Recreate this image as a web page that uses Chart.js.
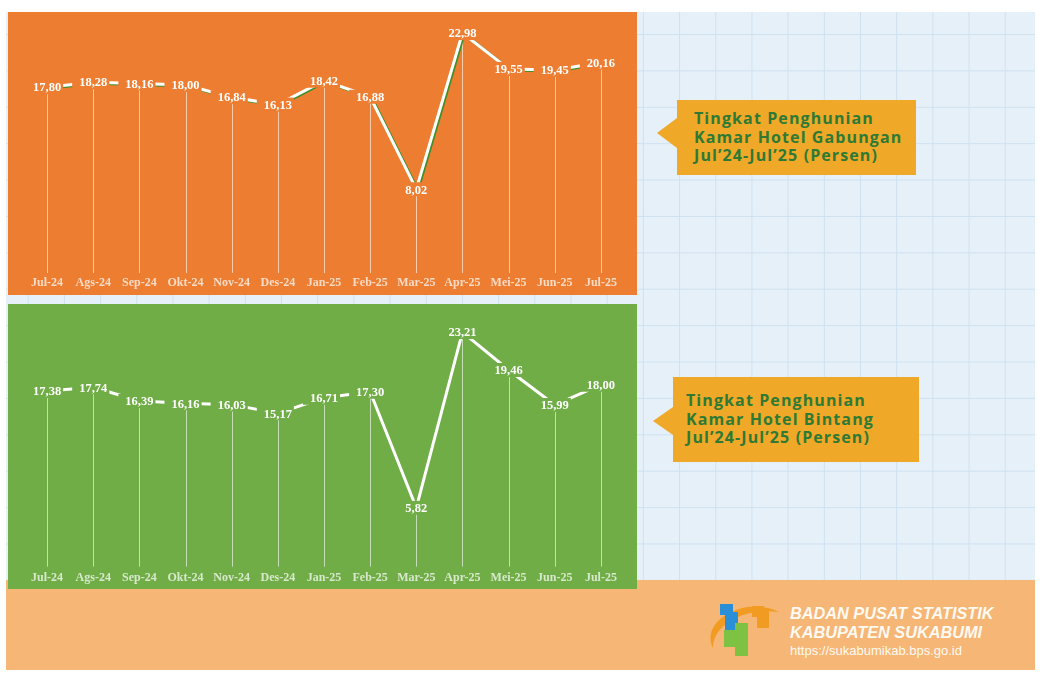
<!DOCTYPE html>
<html>
<head>
<meta charset="utf-8">
<script src="https://cdn.jsdelivr.net/npm/chart.js@4.4.1/dist/chart.umd.min.js"></script>
<style>
  body { margin: 0; width: 1040px; height: 673px; background: #fff; position: relative; overflow: hidden; }
  .grid {
    position: absolute; left: 6px; top: 12px; width: 1029px; height: 570px;
    background-color: #e5f0f9;
    background-image: linear-gradient(to right, #cfe1ef 1px, transparent 1px),
                      linear-gradient(to bottom, #cfe1ef 1px, transparent 1px);
    background-size: 36.2px 36.4px;
    background-position: 21.7px 22px;
  }
  .foot { position: absolute; left: 6px; top: 580px; width: 1029px; height: 90px; background: #f6b676; }
  .panel { position: absolute; left: 8px; width: 629px; }
  #p1 { top: 12px; height: 283px; background: #ed7d31; }
  #p2 { top: 304px; height: 285px; background: #70ad47; }
  .callout {
    position: absolute; background: #f0a828; color: #2e7a35;
    font-family: "Open Sans", sans-serif; font-weight: 700; font-size: 16px;
    letter-spacing: 1.1px; line-height: 18.5px; box-sizing: border-box;
  }
  .arrow { position: absolute; width: 0; height: 0; border-style: solid; }
  .bps { position: absolute; left: 790px; color: #fffaf2; font-family: "Liberation Sans", Arial, sans-serif; }
</style>
</head>
<body>
<div class="grid"></div>
<div class="foot"></div>

<div class="panel" id="p1"><canvas id="c1"></canvas></div>
<div class="panel" id="p2"><canvas id="c2"></canvas></div>

<div class="arrow" style="left:657px;top:118px;border-width:15px 20px 15px 0;border-color:transparent #f0a828 transparent transparent;"></div>
<div class="callout" style="left:677px;top:100px;width:239px;height:75px;padding:9px 0 0 17px;">Tingkat Penghunian<br>Kamar Hotel Gabungan<br>Jul’24-Jul’25 (Persen)</div>

<div class="arrow" style="left:653px;top:407px;border-width:14px 20px 14px 0;border-color:transparent #f0a828 transparent transparent;"></div>
<div class="callout" style="left:673px;top:377px;width:246px;height:85px;padding:14px 0 0 13px;">Tingkat Penghunian<br>Kamar Hotel Bintang<br>Jul’24-Jul’25 (Persen)</div>

<svg style="position:absolute;left:705px;top:596px" width="80" height="64" viewBox="0 0 80 64">
  <path d="M8 52 C0 36 12 20 34 13 C48 9 63 10 74 16 C61 14 47 16 35 20 C18 27 8 38 8 52 Z" fill="#f29b22"/>
  <polygon points="15,8 28,8 28,19 15,19" fill="#2b8fd8"/>
  <polygon points="20,16 33,16 33,39 20,39" fill="#2b8fd8"/>
  <polygon points="47,10 59,10 59,21 47,21" fill="#f29b22"/>
  <polygon points="52,15 64,15 64,32 52,32" fill="#f29b22"/>
  <polygon points="19,34 33,34 33,51 19,51" fill="#7dc243"/>
  <polygon points="30,27 43,27 43,60 30,60" fill="#7dc243"/>
</svg>
<div class="bps" style="top:604px;font-size:16.3px;font-weight:bold;font-style:italic;">BADAN PUSAT STATISTIK</div>
<div class="bps" style="top:623px;font-size:16.3px;font-weight:bold;font-style:italic;">KABUPATEN SUKABUMI</div>
<div class="bps" style="top:643px;font-size:13px;">https://sukabumikab.bps.go.id</div>

<script>
const months = ['Jul-24','Ags-24','Sep-24','Okt-24','Nov-24','Des-24','Jan-25','Feb-25','Mar-25','Apr-25','Mei-25','Jun-25','Jul-25'];
const gabungan = [17.80, 18.28, 18.16, 18.00, 16.84, 16.13, 18.42, 16.88, 8.02, 22.98, 19.55, 19.45, 20.16];
const bintang = [17.38, 17.74, 16.39, 16.16, 16.03, 15.17, 16.71, 17.30, 5.82, 23.21, 19.46, 15.99, 18.00];

// drop lines from each point down to the axis, then value labels on a box of the panel colour
function labelPlugin(bg) {
  return {
    id: 'lbl',
    beforeDatasetsDraw(chart) {
      const ctx = chart.ctx;
      const pts = chart.getDatasetMeta(0).data;
      ctx.save();
      ctx.strokeStyle = 'rgba(255,255,255,0.6)';
      ctx.lineWidth = 1;
      pts.forEach(p => {
        ctx.beginPath();
        ctx.moveTo(Math.round(p.x) + 0.5, p.y);
        ctx.lineTo(Math.round(p.x) + 0.5, chart.chartArea.bottom);
        ctx.stroke();
      });
      ctx.restore();
    },
    afterDatasetsDraw(chart) {
      const ctx = chart.ctx;
      const vals = chart.data.datasets[0].data;
      const pts = chart.getDatasetMeta(0).data;
      ctx.save();
      ctx.font = 'bold 12.5px "Liberation Serif", serif';
      ctx.textAlign = 'center';
      ctx.textBaseline = 'middle';
      pts.forEach((p, i) => {
        const txt = vals[i].toFixed(2).replace('.', ',');
        const w = ctx.measureText(txt).width;
        ctx.fillStyle = bg;
        ctx.fillRect(p.x - w / 2 - 7, p.y - 7, w + 9, 14);
        ctx.fillStyle = '#ffffff';
        ctx.fillText(txt, p.x, p.y + 1);
      });
      ctx.restore();
    }
  };
}

const shadow = {
  id: 'shadow',
  beforeDatasetDraw(chart) {
    const ctx = chart.ctx;
    ctx.save();
    ctx.shadowColor = '#3f8f2a';
    ctx.shadowOffsetX = 1.5;
    ctx.shadowOffsetY = 1;
    ctx.shadowBlur = 0;
  },
  afterDatasetDraw(chart) {
    chart.ctx.restore();
  }
};

function makeChart(id, values, bg, padTop, padBottom, tickPad, extra) {
  return new Chart(document.getElementById(id), {
    type: 'line',
    data: {
      labels: months,
      datasets: [{
        data: values,
        borderColor: '#ffffff',
        borderWidth: 3,
        pointRadius: 0,
        tension: 0,
        clip: false
      }]
    },
    options: {
      responsive: true,
      maintainAspectRatio: false,
      animation: false,
      layout: { padding: { left: 16, right: 13, top: padTop, bottom: padBottom } },
      plugins: { legend: { display: false }, tooltip: { enabled: false } },
      scales: {
        x: {
          offset: true,
          grid: { display: false, drawTicks: false },
          border: { display: false },
          ticks: {
            color: 'rgba(255,255,255,0.72)',
            padding: tickPad,
            maxRotation: 0,
            autoSkip: false,
            font: { family: '"Liberation Serif", serif', size: 12, weight: 'bold' }
          }
        },
        y: { display: false, min: 0, max: 25 }
      }
    },
    plugins: [labelPlugin(bg)].concat(extra)
  });
}

makeChart('c1', gabungan, '#ed7d31', 0, 1.6, 3, [shadow]);
makeChart('c2', bintang, '#70ad47', 10, 0, 4, []);
</script>
</body>
</html>
